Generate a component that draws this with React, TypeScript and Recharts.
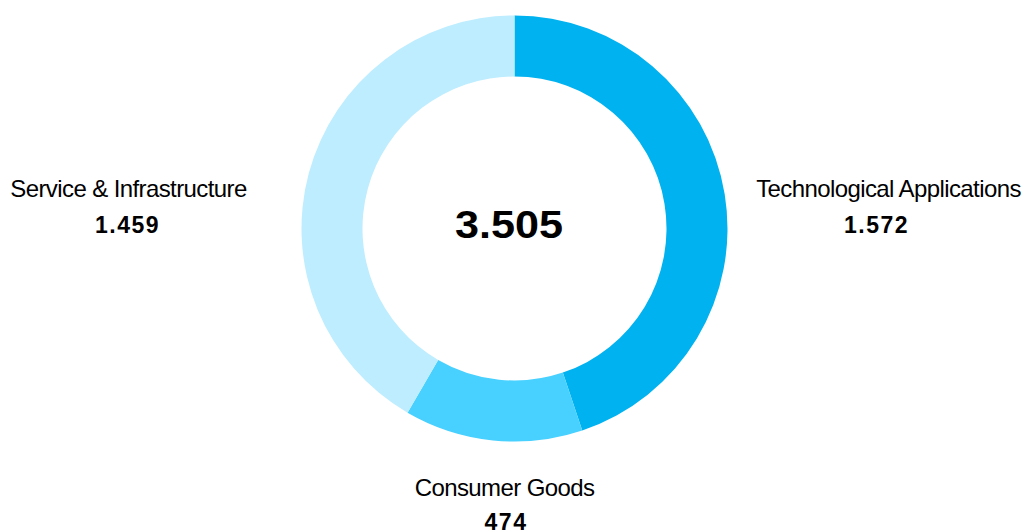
import React from 'react';
import { PieChart, Pie, Cell, Label } from 'recharts';

const categories = ['Technological Applications', 'Consumer Goods', 'Service & Infrastructure'];
const values = [1572, 474, 1459];
const colors = ['#00B2F0', '#48D0FF', '#BDEDFF'];

const data = categories.map((name, i) => ({ name, value: values[i] }));
const total = values.reduce((a, b) => a + b, 0);

const fmt = (n: number) => String(n).replace(/\B(?=(\d{3})+(?!\d))/g, '.');

const FONT = '"Liberation Sans", Arial, Helvetica, sans-serif';
const RAD = Math.PI / 180;

const renderLabel = (props: any) => {
  const { cx, cy, midAngle, outerRadius, name, value } = props;
  const dx = Math.cos(-midAngle * RAD);
  const dy = Math.sin(-midAngle * RAD);
  let nameX: number, valueX: number, nameY: number, valueY: number;
  if (Math.abs(dx) >= Math.abs(dy)) {
    if (dx > 0) {
      nameX = cx + outerRadius + 161;
      valueX = cx + outerRadius + 149;
    } else {
      nameX = cx - outerRadius - 173;
      valueX = cx - outerRadius - 174;
    }
    nameY = cy - 31.5;
    valueY = cy + 4.5;
  } else {
    nameX = cx - 10;
    valueX = cx - 8.5;
    nameY = cy + outerRadius + 54;
    valueY = cy + outerRadius + 88.5;
  }
  return (
    <g>
      <text
        x={nameX}
        y={nameY}
        textAnchor="middle"
        fontFamily={FONT}
        fontSize={24}
        letterSpacing={-0.6}
        fill="#000"
      >
        {name}
      </text>
      <text
        x={valueX}
        y={valueY}
        textAnchor="middle"
        fontFamily={FONT}
        fontSize={23}
        fontWeight="bold"
        letterSpacing={1.5}
        fill="#000"
      >
        {fmt(value)}
      </text>
    </g>
  );
};

const CenterLabel = (props: any) => {
  const vb = props.viewBox || {};
  const cx = vb.cx ?? 514.5;
  const cy = vb.cy ?? 228.5;
  return (
    <text
      x={cx - 5.5}
      y={cy + 9.5}
      textAnchor="middle"
      fontFamily={FONT}
      fontSize={38}
      fontWeight="bold"
      fill="#000"
      textLength={108}
      lengthAdjust="spacingAndGlyphs"
    >
      {fmt(total)}
    </text>
  );
};

export default function App() {
  return (
    <div style={{ position: 'absolute', left: 0, top: 0, width: 1025, height: 531, background: '#fff' }}>
      <PieChart width={1025} height={531} margin={{ top: 0, right: 0, bottom: 0, left: 0 }}>
        <Pie
          data={data}
          dataKey="value"
          nameKey="name"
          cx={514.5}
          cy={228.5}
          innerRadius={152}
          outerRadius={213}
          startAngle={90}
          endAngle={-270}
          stroke="none"
          isAnimationActive={false}
          label={renderLabel}
          labelLine={false}
        >
          {data.map((d, i) => (
            <Cell key={d.name} fill={colors[i]} stroke="none" />
          ))}
          <Label position="center" content={<CenterLabel />} />
        </Pie>
      </PieChart>
    </div>
  );
}
